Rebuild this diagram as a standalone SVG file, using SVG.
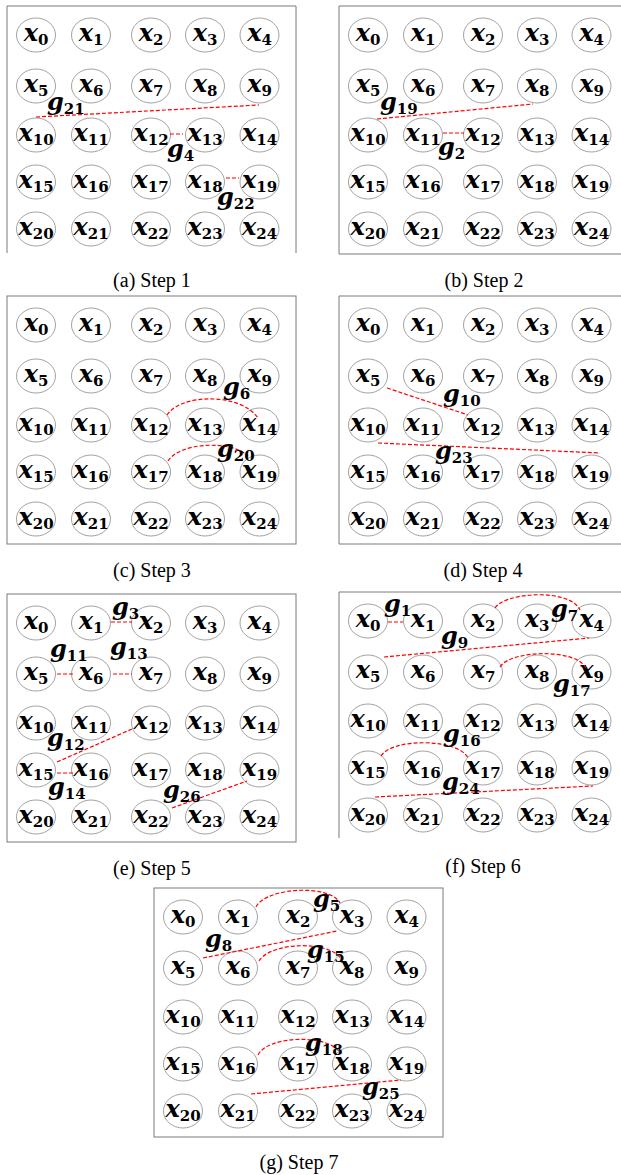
<svg xmlns="http://www.w3.org/2000/svg" width="621" height="1175" viewBox="0 0 621 1175">
<style>
.f{fill:none;stroke:#7a7a7a;stroke-width:1}
.n ellipse{fill:#fff;stroke:#8a8a8a;stroke-width:0.8}
.t{font-family:"DejaVu Serif",serif;font-weight:bold;font-style:italic;font-size:24px;fill:#000;text-anchor:middle}
.g{font-family:"DejaVu Serif",serif;font-weight:bold;font-style:italic;font-size:24px;fill:#000}
.s{font-style:normal;font-size:15px}
.c{fill:none;stroke:#f00;stroke-width:1.2;stroke-dasharray:4 2}
.cap{font-family:"Liberation Serif",serif;font-size:20px;fill:#000;text-anchor:middle}
</style>
<rect width="621" height="1175" fill="#fff"/>
<g id="frames">
<path class="f" d="M7,253 V6 H296 V253"/>
<path class="f" d="M625,6 H339 V254 H625"/>
<rect class="f" x="7" y="296" width="289" height="248"/>
<path class="f" d="M625,296 H339 V544 H625"/>
<rect class="f" x="7" y="594" width="289" height="248"/>
<path class="f" d="M625,592 H339 V838"/>
<rect class="f" x="154" y="888" width="289" height="249"/>
</g>
<g id="captions">
<text class="cap" x="152" y="287">(a) Step 1</text>
<text class="cap" x="484" y="287">(b) Step 2</text>
<text class="cap" x="152" y="577">(c) Step 3</text>
<text class="cap" x="483" y="577">(d) Step 4</text>
<text class="cap" x="152" y="875">(e) Step 5</text>
<text class="cap" x="483" y="873">(f) Step 6</text>
<text class="cap" x="299" y="1169">(g) Step 7</text>
</g>
<g id="panel-a">
<g id="a0" class="n"><ellipse cx="36" cy="35" rx="19.5" ry="17"/><text class="t" x="36" y="41">x<tspan class="s" dy="4">0</tspan></text></g>
<g id="a1" class="n"><ellipse cx="91" cy="35" rx="19.5" ry="17"/><text class="t" x="91" y="41">x<tspan class="s" dy="4">1</tspan></text></g>
<g id="a2" class="n"><ellipse cx="151" cy="35" rx="19.5" ry="17"/><text class="t" x="151" y="41">x<tspan class="s" dy="4">2</tspan></text></g>
<g id="a3" class="n"><ellipse cx="205" cy="35" rx="19.5" ry="17"/><text class="t" x="205" y="41">x<tspan class="s" dy="4">3</tspan></text></g>
<g id="a4" class="n"><ellipse cx="259.5" cy="35" rx="19.5" ry="17"/><text class="t" x="259.5" y="41">x<tspan class="s" dy="4">4</tspan></text></g>
<g id="a5" class="n"><ellipse cx="36" cy="86" rx="19.5" ry="17"/><text class="t" x="36" y="92">x<tspan class="s" dy="4">5</tspan></text></g>
<g id="a6" class="n"><ellipse cx="91" cy="86" rx="19.5" ry="17"/><text class="t" x="91" y="92">x<tspan class="s" dy="4">6</tspan></text></g>
<g id="a7" class="n"><ellipse cx="151" cy="86" rx="19.5" ry="17"/><text class="t" x="151" y="92">x<tspan class="s" dy="4">7</tspan></text></g>
<g id="a8" class="n"><ellipse cx="205" cy="86" rx="19.5" ry="17"/><text class="t" x="205" y="92">x<tspan class="s" dy="4">8</tspan></text></g>
<g id="a9" class="n"><ellipse cx="259.5" cy="86" rx="19.5" ry="17"/><text class="t" x="259.5" y="92">x<tspan class="s" dy="4">9</tspan></text></g>
<g id="a10" class="n"><ellipse cx="36" cy="135" rx="19.5" ry="17"/><text class="t" x="36" y="141">x<tspan class="s" dy="4">10</tspan></text></g>
<g id="a11" class="n"><ellipse cx="91" cy="135" rx="19.5" ry="17"/><text class="t" x="91" y="141">x<tspan class="s" dy="4">11</tspan></text></g>
<g id="a12" class="n"><ellipse cx="151" cy="135" rx="19.5" ry="17"/><text class="t" x="151" y="141">x<tspan class="s" dy="4">12</tspan></text></g>
<g id="a13" class="n"><ellipse cx="205" cy="135" rx="19.5" ry="17"/><text class="t" x="205" y="141">x<tspan class="s" dy="4">13</tspan></text></g>
<g id="a14" class="n"><ellipse cx="259.5" cy="135" rx="19.5" ry="17"/><text class="t" x="259.5" y="141">x<tspan class="s" dy="4">14</tspan></text></g>
<g id="a15" class="n"><ellipse cx="36" cy="182" rx="19.5" ry="17"/><text class="t" x="36" y="188">x<tspan class="s" dy="4">15</tspan></text></g>
<g id="a16" class="n"><ellipse cx="91" cy="182" rx="19.5" ry="17"/><text class="t" x="91" y="188">x<tspan class="s" dy="4">16</tspan></text></g>
<g id="a17" class="n"><ellipse cx="151" cy="182" rx="19.5" ry="17"/><text class="t" x="151" y="188">x<tspan class="s" dy="4">17</tspan></text></g>
<g id="a18" class="n"><ellipse cx="205" cy="182" rx="19.5" ry="17"/><text class="t" x="205" y="188">x<tspan class="s" dy="4">18</tspan></text></g>
<g id="a19" class="n"><ellipse cx="259.5" cy="182" rx="19.5" ry="17"/><text class="t" x="259.5" y="188">x<tspan class="s" dy="4">19</tspan></text></g>
<g id="a20" class="n"><ellipse cx="36" cy="229" rx="19.5" ry="17"/><text class="t" x="36" y="235">x<tspan class="s" dy="4">20</tspan></text></g>
<g id="a21" class="n"><ellipse cx="91" cy="229" rx="19.5" ry="17"/><text class="t" x="91" y="235">x<tspan class="s" dy="4">21</tspan></text></g>
<g id="a22" class="n"><ellipse cx="151" cy="229" rx="19.5" ry="17"/><text class="t" x="151" y="235">x<tspan class="s" dy="4">22</tspan></text></g>
<g id="a23" class="n"><ellipse cx="205" cy="229" rx="19.5" ry="17"/><text class="t" x="205" y="235">x<tspan class="s" dy="4">23</tspan></text></g>
<g id="a24" class="n"><ellipse cx="259.5" cy="229" rx="19.5" ry="17"/><text class="t" x="259.5" y="235">x<tspan class="s" dy="4">24</tspan></text></g>
</g>
<g id="panel-b">
<g id="b0" class="n"><ellipse cx="368" cy="35" rx="19.5" ry="17"/><text class="t" x="368" y="41">x<tspan class="s" dy="4">0</tspan></text></g>
<g id="b1" class="n"><ellipse cx="423" cy="35" rx="19.5" ry="17"/><text class="t" x="423" y="41">x<tspan class="s" dy="4">1</tspan></text></g>
<g id="b2" class="n"><ellipse cx="483" cy="35" rx="19.5" ry="17"/><text class="t" x="483" y="41">x<tspan class="s" dy="4">2</tspan></text></g>
<g id="b3" class="n"><ellipse cx="537" cy="35" rx="19.5" ry="17"/><text class="t" x="537" y="41">x<tspan class="s" dy="4">3</tspan></text></g>
<g id="b4" class="n"><ellipse cx="591.5" cy="35" rx="19.5" ry="17"/><text class="t" x="591.5" y="41">x<tspan class="s" dy="4">4</tspan></text></g>
<g id="b5" class="n"><ellipse cx="368" cy="86" rx="19.5" ry="17"/><text class="t" x="368" y="92">x<tspan class="s" dy="4">5</tspan></text></g>
<g id="b6" class="n"><ellipse cx="423" cy="86" rx="19.5" ry="17"/><text class="t" x="423" y="92">x<tspan class="s" dy="4">6</tspan></text></g>
<g id="b7" class="n"><ellipse cx="483" cy="86" rx="19.5" ry="17"/><text class="t" x="483" y="92">x<tspan class="s" dy="4">7</tspan></text></g>
<g id="b8" class="n"><ellipse cx="537" cy="86" rx="19.5" ry="17"/><text class="t" x="537" y="92">x<tspan class="s" dy="4">8</tspan></text></g>
<g id="b9" class="n"><ellipse cx="591.5" cy="86" rx="19.5" ry="17"/><text class="t" x="591.5" y="92">x<tspan class="s" dy="4">9</tspan></text></g>
<g id="b10" class="n"><ellipse cx="368" cy="135" rx="19.5" ry="17"/><text class="t" x="368" y="141">x<tspan class="s" dy="4">10</tspan></text></g>
<g id="b11" class="n"><ellipse cx="423" cy="135" rx="19.5" ry="17"/><text class="t" x="423" y="141">x<tspan class="s" dy="4">11</tspan></text></g>
<g id="b12" class="n"><ellipse cx="483" cy="135" rx="19.5" ry="17"/><text class="t" x="483" y="141">x<tspan class="s" dy="4">12</tspan></text></g>
<g id="b13" class="n"><ellipse cx="537" cy="135" rx="19.5" ry="17"/><text class="t" x="537" y="141">x<tspan class="s" dy="4">13</tspan></text></g>
<g id="b14" class="n"><ellipse cx="591.5" cy="135" rx="19.5" ry="17"/><text class="t" x="591.5" y="141">x<tspan class="s" dy="4">14</tspan></text></g>
<g id="b15" class="n"><ellipse cx="368" cy="182" rx="19.5" ry="17"/><text class="t" x="368" y="188">x<tspan class="s" dy="4">15</tspan></text></g>
<g id="b16" class="n"><ellipse cx="423" cy="182" rx="19.5" ry="17"/><text class="t" x="423" y="188">x<tspan class="s" dy="4">16</tspan></text></g>
<g id="b17" class="n"><ellipse cx="483" cy="182" rx="19.5" ry="17"/><text class="t" x="483" y="188">x<tspan class="s" dy="4">17</tspan></text></g>
<g id="b18" class="n"><ellipse cx="537" cy="182" rx="19.5" ry="17"/><text class="t" x="537" y="188">x<tspan class="s" dy="4">18</tspan></text></g>
<g id="b19" class="n"><ellipse cx="591.5" cy="182" rx="19.5" ry="17"/><text class="t" x="591.5" y="188">x<tspan class="s" dy="4">19</tspan></text></g>
<g id="b20" class="n"><ellipse cx="368" cy="229" rx="19.5" ry="17"/><text class="t" x="368" y="235">x<tspan class="s" dy="4">20</tspan></text></g>
<g id="b21" class="n"><ellipse cx="423" cy="229" rx="19.5" ry="17"/><text class="t" x="423" y="235">x<tspan class="s" dy="4">21</tspan></text></g>
<g id="b22" class="n"><ellipse cx="483" cy="229" rx="19.5" ry="17"/><text class="t" x="483" y="235">x<tspan class="s" dy="4">22</tspan></text></g>
<g id="b23" class="n"><ellipse cx="537" cy="229" rx="19.5" ry="17"/><text class="t" x="537" y="235">x<tspan class="s" dy="4">23</tspan></text></g>
<g id="b24" class="n"><ellipse cx="591.5" cy="229" rx="19.5" ry="17"/><text class="t" x="591.5" y="235">x<tspan class="s" dy="4">24</tspan></text></g>
</g>
<g id="panel-c">
<g id="c0" class="n"><ellipse cx="36" cy="325" rx="19.5" ry="17"/><text class="t" x="36" y="331">x<tspan class="s" dy="4">0</tspan></text></g>
<g id="c1" class="n"><ellipse cx="91" cy="325" rx="19.5" ry="17"/><text class="t" x="91" y="331">x<tspan class="s" dy="4">1</tspan></text></g>
<g id="c2" class="n"><ellipse cx="151" cy="325" rx="19.5" ry="17"/><text class="t" x="151" y="331">x<tspan class="s" dy="4">2</tspan></text></g>
<g id="c3" class="n"><ellipse cx="205" cy="325" rx="19.5" ry="17"/><text class="t" x="205" y="331">x<tspan class="s" dy="4">3</tspan></text></g>
<g id="c4" class="n"><ellipse cx="259.5" cy="325" rx="19.5" ry="17"/><text class="t" x="259.5" y="331">x<tspan class="s" dy="4">4</tspan></text></g>
<g id="c5" class="n"><ellipse cx="36" cy="376" rx="19.5" ry="17"/><text class="t" x="36" y="382">x<tspan class="s" dy="4">5</tspan></text></g>
<g id="c6" class="n"><ellipse cx="91" cy="376" rx="19.5" ry="17"/><text class="t" x="91" y="382">x<tspan class="s" dy="4">6</tspan></text></g>
<g id="c7" class="n"><ellipse cx="151" cy="376" rx="19.5" ry="17"/><text class="t" x="151" y="382">x<tspan class="s" dy="4">7</tspan></text></g>
<g id="c8" class="n"><ellipse cx="205" cy="376" rx="19.5" ry="17"/><text class="t" x="205" y="382">x<tspan class="s" dy="4">8</tspan></text></g>
<g id="c9" class="n"><ellipse cx="259.5" cy="376" rx="19.5" ry="17"/><text class="t" x="259.5" y="382">x<tspan class="s" dy="4">9</tspan></text></g>
<g id="c10" class="n"><ellipse cx="36" cy="425" rx="19.5" ry="17"/><text class="t" x="36" y="431">x<tspan class="s" dy="4">10</tspan></text></g>
<g id="c11" class="n"><ellipse cx="91" cy="425" rx="19.5" ry="17"/><text class="t" x="91" y="431">x<tspan class="s" dy="4">11</tspan></text></g>
<g id="c12" class="n"><ellipse cx="151" cy="425" rx="19.5" ry="17"/><text class="t" x="151" y="431">x<tspan class="s" dy="4">12</tspan></text></g>
<g id="c13" class="n"><ellipse cx="205" cy="425" rx="19.5" ry="17"/><text class="t" x="205" y="431">x<tspan class="s" dy="4">13</tspan></text></g>
<g id="c14" class="n"><ellipse cx="259.5" cy="425" rx="19.5" ry="17"/><text class="t" x="259.5" y="431">x<tspan class="s" dy="4">14</tspan></text></g>
<g id="c15" class="n"><ellipse cx="36" cy="472" rx="19.5" ry="17"/><text class="t" x="36" y="478">x<tspan class="s" dy="4">15</tspan></text></g>
<g id="c16" class="n"><ellipse cx="91" cy="472" rx="19.5" ry="17"/><text class="t" x="91" y="478">x<tspan class="s" dy="4">16</tspan></text></g>
<g id="c17" class="n"><ellipse cx="151" cy="472" rx="19.5" ry="17"/><text class="t" x="151" y="478">x<tspan class="s" dy="4">17</tspan></text></g>
<g id="c18" class="n"><ellipse cx="205" cy="472" rx="19.5" ry="17"/><text class="t" x="205" y="478">x<tspan class="s" dy="4">18</tspan></text></g>
<g id="c19" class="n"><ellipse cx="259.5" cy="472" rx="19.5" ry="17"/><text class="t" x="259.5" y="478">x<tspan class="s" dy="4">19</tspan></text></g>
<g id="c20" class="n"><ellipse cx="36" cy="519" rx="19.5" ry="17"/><text class="t" x="36" y="525">x<tspan class="s" dy="4">20</tspan></text></g>
<g id="c21" class="n"><ellipse cx="91" cy="519" rx="19.5" ry="17"/><text class="t" x="91" y="525">x<tspan class="s" dy="4">21</tspan></text></g>
<g id="c22" class="n"><ellipse cx="151" cy="519" rx="19.5" ry="17"/><text class="t" x="151" y="525">x<tspan class="s" dy="4">22</tspan></text></g>
<g id="c23" class="n"><ellipse cx="205" cy="519" rx="19.5" ry="17"/><text class="t" x="205" y="525">x<tspan class="s" dy="4">23</tspan></text></g>
<g id="c24" class="n"><ellipse cx="259.5" cy="519" rx="19.5" ry="17"/><text class="t" x="259.5" y="525">x<tspan class="s" dy="4">24</tspan></text></g>
</g>
<g id="panel-d">
<g id="d0" class="n"><ellipse cx="368" cy="325" rx="19.5" ry="17"/><text class="t" x="368" y="331">x<tspan class="s" dy="4">0</tspan></text></g>
<g id="d1" class="n"><ellipse cx="423" cy="325" rx="19.5" ry="17"/><text class="t" x="423" y="331">x<tspan class="s" dy="4">1</tspan></text></g>
<g id="d2" class="n"><ellipse cx="483" cy="325" rx="19.5" ry="17"/><text class="t" x="483" y="331">x<tspan class="s" dy="4">2</tspan></text></g>
<g id="d3" class="n"><ellipse cx="537" cy="325" rx="19.5" ry="17"/><text class="t" x="537" y="331">x<tspan class="s" dy="4">3</tspan></text></g>
<g id="d4" class="n"><ellipse cx="591.5" cy="325" rx="19.5" ry="17"/><text class="t" x="591.5" y="331">x<tspan class="s" dy="4">4</tspan></text></g>
<g id="d5" class="n"><ellipse cx="368" cy="376" rx="19.5" ry="17"/><text class="t" x="368" y="382">x<tspan class="s" dy="4">5</tspan></text></g>
<g id="d6" class="n"><ellipse cx="423" cy="376" rx="19.5" ry="17"/><text class="t" x="423" y="382">x<tspan class="s" dy="4">6</tspan></text></g>
<g id="d7" class="n"><ellipse cx="483" cy="376" rx="19.5" ry="17"/><text class="t" x="483" y="382">x<tspan class="s" dy="4">7</tspan></text></g>
<g id="d8" class="n"><ellipse cx="537" cy="376" rx="19.5" ry="17"/><text class="t" x="537" y="382">x<tspan class="s" dy="4">8</tspan></text></g>
<g id="d9" class="n"><ellipse cx="591.5" cy="376" rx="19.5" ry="17"/><text class="t" x="591.5" y="382">x<tspan class="s" dy="4">9</tspan></text></g>
<g id="d10" class="n"><ellipse cx="368" cy="425" rx="19.5" ry="17"/><text class="t" x="368" y="431">x<tspan class="s" dy="4">10</tspan></text></g>
<g id="d11" class="n"><ellipse cx="423" cy="425" rx="19.5" ry="17"/><text class="t" x="423" y="431">x<tspan class="s" dy="4">11</tspan></text></g>
<g id="d12" class="n"><ellipse cx="483" cy="425" rx="19.5" ry="17"/><text class="t" x="483" y="431">x<tspan class="s" dy="4">12</tspan></text></g>
<g id="d13" class="n"><ellipse cx="537" cy="425" rx="19.5" ry="17"/><text class="t" x="537" y="431">x<tspan class="s" dy="4">13</tspan></text></g>
<g id="d14" class="n"><ellipse cx="591.5" cy="425" rx="19.5" ry="17"/><text class="t" x="591.5" y="431">x<tspan class="s" dy="4">14</tspan></text></g>
<g id="d15" class="n"><ellipse cx="368" cy="472" rx="19.5" ry="17"/><text class="t" x="368" y="478">x<tspan class="s" dy="4">15</tspan></text></g>
<g id="d16" class="n"><ellipse cx="423" cy="472" rx="19.5" ry="17"/><text class="t" x="423" y="478">x<tspan class="s" dy="4">16</tspan></text></g>
<g id="d17" class="n"><ellipse cx="483" cy="472" rx="19.5" ry="17"/><text class="t" x="483" y="478">x<tspan class="s" dy="4">17</tspan></text></g>
<g id="d18" class="n"><ellipse cx="537" cy="472" rx="19.5" ry="17"/><text class="t" x="537" y="478">x<tspan class="s" dy="4">18</tspan></text></g>
<g id="d19" class="n"><ellipse cx="591.5" cy="472" rx="19.5" ry="17"/><text class="t" x="591.5" y="478">x<tspan class="s" dy="4">19</tspan></text></g>
<g id="d20" class="n"><ellipse cx="368" cy="519" rx="19.5" ry="17"/><text class="t" x="368" y="525">x<tspan class="s" dy="4">20</tspan></text></g>
<g id="d21" class="n"><ellipse cx="423" cy="519" rx="19.5" ry="17"/><text class="t" x="423" y="525">x<tspan class="s" dy="4">21</tspan></text></g>
<g id="d22" class="n"><ellipse cx="483" cy="519" rx="19.5" ry="17"/><text class="t" x="483" y="525">x<tspan class="s" dy="4">22</tspan></text></g>
<g id="d23" class="n"><ellipse cx="537" cy="519" rx="19.5" ry="17"/><text class="t" x="537" y="525">x<tspan class="s" dy="4">23</tspan></text></g>
<g id="d24" class="n"><ellipse cx="591.5" cy="519" rx="19.5" ry="17"/><text class="t" x="591.5" y="525">x<tspan class="s" dy="4">24</tspan></text></g>
</g>
<g id="panel-e">
<g id="e0" class="n"><ellipse cx="36" cy="623" rx="19.5" ry="17"/><text class="t" x="36" y="629">x<tspan class="s" dy="4">0</tspan></text></g>
<g id="e1" class="n"><ellipse cx="91" cy="623" rx="19.5" ry="17"/><text class="t" x="91" y="629">x<tspan class="s" dy="4">1</tspan></text></g>
<g id="e2" class="n"><ellipse cx="151" cy="623" rx="19.5" ry="17"/><text class="t" x="151" y="629">x<tspan class="s" dy="4">2</tspan></text></g>
<g id="e3" class="n"><ellipse cx="205" cy="623" rx="19.5" ry="17"/><text class="t" x="205" y="629">x<tspan class="s" dy="4">3</tspan></text></g>
<g id="e4" class="n"><ellipse cx="259.5" cy="623" rx="19.5" ry="17"/><text class="t" x="259.5" y="629">x<tspan class="s" dy="4">4</tspan></text></g>
<g id="e5" class="n"><ellipse cx="36" cy="674" rx="19.5" ry="17"/><text class="t" x="36" y="680">x<tspan class="s" dy="4">5</tspan></text></g>
<g id="e6" class="n"><ellipse cx="91" cy="674" rx="19.5" ry="17"/><text class="t" x="91" y="680">x<tspan class="s" dy="4">6</tspan></text></g>
<g id="e7" class="n"><ellipse cx="151" cy="674" rx="19.5" ry="17"/><text class="t" x="151" y="680">x<tspan class="s" dy="4">7</tspan></text></g>
<g id="e8" class="n"><ellipse cx="205" cy="674" rx="19.5" ry="17"/><text class="t" x="205" y="680">x<tspan class="s" dy="4">8</tspan></text></g>
<g id="e9" class="n"><ellipse cx="259.5" cy="674" rx="19.5" ry="17"/><text class="t" x="259.5" y="680">x<tspan class="s" dy="4">9</tspan></text></g>
<g id="e10" class="n"><ellipse cx="36" cy="723" rx="19.5" ry="17"/><text class="t" x="36" y="729">x<tspan class="s" dy="4">10</tspan></text></g>
<g id="e11" class="n"><ellipse cx="91" cy="723" rx="19.5" ry="17"/><text class="t" x="91" y="729">x<tspan class="s" dy="4">11</tspan></text></g>
<g id="e12" class="n"><ellipse cx="151" cy="723" rx="19.5" ry="17"/><text class="t" x="151" y="729">x<tspan class="s" dy="4">12</tspan></text></g>
<g id="e13" class="n"><ellipse cx="205" cy="723" rx="19.5" ry="17"/><text class="t" x="205" y="729">x<tspan class="s" dy="4">13</tspan></text></g>
<g id="e14" class="n"><ellipse cx="259.5" cy="723" rx="19.5" ry="17"/><text class="t" x="259.5" y="729">x<tspan class="s" dy="4">14</tspan></text></g>
<g id="e15" class="n"><ellipse cx="36" cy="770" rx="19.5" ry="17"/><text class="t" x="36" y="776">x<tspan class="s" dy="4">15</tspan></text></g>
<g id="e16" class="n"><ellipse cx="91" cy="770" rx="19.5" ry="17"/><text class="t" x="91" y="776">x<tspan class="s" dy="4">16</tspan></text></g>
<g id="e17" class="n"><ellipse cx="151" cy="770" rx="19.5" ry="17"/><text class="t" x="151" y="776">x<tspan class="s" dy="4">17</tspan></text></g>
<g id="e18" class="n"><ellipse cx="205" cy="770" rx="19.5" ry="17"/><text class="t" x="205" y="776">x<tspan class="s" dy="4">18</tspan></text></g>
<g id="e19" class="n"><ellipse cx="259.5" cy="770" rx="19.5" ry="17"/><text class="t" x="259.5" y="776">x<tspan class="s" dy="4">19</tspan></text></g>
<g id="e20" class="n"><ellipse cx="36" cy="817" rx="19.5" ry="17"/><text class="t" x="36" y="823">x<tspan class="s" dy="4">20</tspan></text></g>
<g id="e21" class="n"><ellipse cx="91" cy="817" rx="19.5" ry="17"/><text class="t" x="91" y="823">x<tspan class="s" dy="4">21</tspan></text></g>
<g id="e22" class="n"><ellipse cx="151" cy="817" rx="19.5" ry="17"/><text class="t" x="151" y="823">x<tspan class="s" dy="4">22</tspan></text></g>
<g id="e23" class="n"><ellipse cx="205" cy="817" rx="19.5" ry="17"/><text class="t" x="205" y="823">x<tspan class="s" dy="4">23</tspan></text></g>
<g id="e24" class="n"><ellipse cx="259.5" cy="817" rx="19.5" ry="17"/><text class="t" x="259.5" y="823">x<tspan class="s" dy="4">24</tspan></text></g>
</g>
<g id="panel-f">
<g id="f0" class="n"><ellipse cx="368" cy="621" rx="19.5" ry="17"/><text class="t" x="368" y="627">x<tspan class="s" dy="4">0</tspan></text></g>
<g id="f1" class="n"><ellipse cx="423" cy="621" rx="19.5" ry="17"/><text class="t" x="423" y="627">x<tspan class="s" dy="4">1</tspan></text></g>
<g id="f2" class="n"><ellipse cx="483" cy="621" rx="19.5" ry="17"/><text class="t" x="483" y="627">x<tspan class="s" dy="4">2</tspan></text></g>
<g id="f3" class="n"><ellipse cx="537" cy="621" rx="19.5" ry="17"/><text class="t" x="537" y="627">x<tspan class="s" dy="4">3</tspan></text></g>
<g id="f4" class="n"><ellipse cx="591.5" cy="621" rx="19.5" ry="17"/><text class="t" x="591.5" y="627">x<tspan class="s" dy="4">4</tspan></text></g>
<g id="f5" class="n"><ellipse cx="368" cy="672" rx="19.5" ry="17"/><text class="t" x="368" y="678">x<tspan class="s" dy="4">5</tspan></text></g>
<g id="f6" class="n"><ellipse cx="423" cy="672" rx="19.5" ry="17"/><text class="t" x="423" y="678">x<tspan class="s" dy="4">6</tspan></text></g>
<g id="f7" class="n"><ellipse cx="483" cy="672" rx="19.5" ry="17"/><text class="t" x="483" y="678">x<tspan class="s" dy="4">7</tspan></text></g>
<g id="f8" class="n"><ellipse cx="537" cy="672" rx="19.5" ry="17"/><text class="t" x="537" y="678">x<tspan class="s" dy="4">8</tspan></text></g>
<g id="f9" class="n"><ellipse cx="591.5" cy="672" rx="19.5" ry="17"/><text class="t" x="591.5" y="678">x<tspan class="s" dy="4">9</tspan></text></g>
<g id="f10" class="n"><ellipse cx="368" cy="721" rx="19.5" ry="17"/><text class="t" x="368" y="727">x<tspan class="s" dy="4">10</tspan></text></g>
<g id="f11" class="n"><ellipse cx="423" cy="721" rx="19.5" ry="17"/><text class="t" x="423" y="727">x<tspan class="s" dy="4">11</tspan></text></g>
<g id="f12" class="n"><ellipse cx="483" cy="721" rx="19.5" ry="17"/><text class="t" x="483" y="727">x<tspan class="s" dy="4">12</tspan></text></g>
<g id="f13" class="n"><ellipse cx="537" cy="721" rx="19.5" ry="17"/><text class="t" x="537" y="727">x<tspan class="s" dy="4">13</tspan></text></g>
<g id="f14" class="n"><ellipse cx="591.5" cy="721" rx="19.5" ry="17"/><text class="t" x="591.5" y="727">x<tspan class="s" dy="4">14</tspan></text></g>
<g id="f15" class="n"><ellipse cx="368" cy="768" rx="19.5" ry="17"/><text class="t" x="368" y="774">x<tspan class="s" dy="4">15</tspan></text></g>
<g id="f16" class="n"><ellipse cx="423" cy="768" rx="19.5" ry="17"/><text class="t" x="423" y="774">x<tspan class="s" dy="4">16</tspan></text></g>
<g id="f17" class="n"><ellipse cx="483" cy="768" rx="19.5" ry="17"/><text class="t" x="483" y="774">x<tspan class="s" dy="4">17</tspan></text></g>
<g id="f18" class="n"><ellipse cx="537" cy="768" rx="19.5" ry="17"/><text class="t" x="537" y="774">x<tspan class="s" dy="4">18</tspan></text></g>
<g id="f19" class="n"><ellipse cx="591.5" cy="768" rx="19.5" ry="17"/><text class="t" x="591.5" y="774">x<tspan class="s" dy="4">19</tspan></text></g>
<g id="f20" class="n"><ellipse cx="368" cy="815" rx="19.5" ry="17"/><text class="t" x="368" y="821">x<tspan class="s" dy="4">20</tspan></text></g>
<g id="f21" class="n"><ellipse cx="423" cy="815" rx="19.5" ry="17"/><text class="t" x="423" y="821">x<tspan class="s" dy="4">21</tspan></text></g>
<g id="f22" class="n"><ellipse cx="483" cy="815" rx="19.5" ry="17"/><text class="t" x="483" y="821">x<tspan class="s" dy="4">22</tspan></text></g>
<g id="f23" class="n"><ellipse cx="537" cy="815" rx="19.5" ry="17"/><text class="t" x="537" y="821">x<tspan class="s" dy="4">23</tspan></text></g>
<g id="f24" class="n"><ellipse cx="591.5" cy="815" rx="19.5" ry="17"/><text class="t" x="591.5" y="821">x<tspan class="s" dy="4">24</tspan></text></g>
</g>
<g id="panel-g">
<g id="g0" class="n"><ellipse cx="183" cy="917" rx="19.5" ry="17"/><text class="t" x="183" y="923">x<tspan class="s" dy="4">0</tspan></text></g>
<g id="g1" class="n"><ellipse cx="238" cy="917" rx="19.5" ry="17"/><text class="t" x="238" y="923">x<tspan class="s" dy="4">1</tspan></text></g>
<g id="g2" class="n"><ellipse cx="298" cy="917" rx="19.5" ry="17"/><text class="t" x="298" y="923">x<tspan class="s" dy="4">2</tspan></text></g>
<g id="g3" class="n"><ellipse cx="352" cy="917" rx="19.5" ry="17"/><text class="t" x="352" y="923">x<tspan class="s" dy="4">3</tspan></text></g>
<g id="g4" class="n"><ellipse cx="406.5" cy="917" rx="19.5" ry="17"/><text class="t" x="406.5" y="923">x<tspan class="s" dy="4">4</tspan></text></g>
<g id="g5" class="n"><ellipse cx="183" cy="968" rx="19.5" ry="17"/><text class="t" x="183" y="974">x<tspan class="s" dy="4">5</tspan></text></g>
<g id="g6" class="n"><ellipse cx="238" cy="968" rx="19.5" ry="17"/><text class="t" x="238" y="974">x<tspan class="s" dy="4">6</tspan></text></g>
<g id="g7" class="n"><ellipse cx="298" cy="968" rx="19.5" ry="17"/><text class="t" x="298" y="974">x<tspan class="s" dy="4">7</tspan></text></g>
<g id="g8" class="n"><ellipse cx="352" cy="968" rx="19.5" ry="17"/><text class="t" x="352" y="974">x<tspan class="s" dy="4">8</tspan></text></g>
<g id="g9" class="n"><ellipse cx="406.5" cy="968" rx="19.5" ry="17"/><text class="t" x="406.5" y="974">x<tspan class="s" dy="4">9</tspan></text></g>
<g id="g10" class="n"><ellipse cx="183" cy="1017" rx="19.5" ry="17"/><text class="t" x="183" y="1023">x<tspan class="s" dy="4">10</tspan></text></g>
<g id="g11" class="n"><ellipse cx="238" cy="1017" rx="19.5" ry="17"/><text class="t" x="238" y="1023">x<tspan class="s" dy="4">11</tspan></text></g>
<g id="g12" class="n"><ellipse cx="298" cy="1017" rx="19.5" ry="17"/><text class="t" x="298" y="1023">x<tspan class="s" dy="4">12</tspan></text></g>
<g id="g13" class="n"><ellipse cx="352" cy="1017" rx="19.5" ry="17"/><text class="t" x="352" y="1023">x<tspan class="s" dy="4">13</tspan></text></g>
<g id="g14" class="n"><ellipse cx="406.5" cy="1017" rx="19.5" ry="17"/><text class="t" x="406.5" y="1023">x<tspan class="s" dy="4">14</tspan></text></g>
<g id="g15" class="n"><ellipse cx="183" cy="1064" rx="19.5" ry="17"/><text class="t" x="183" y="1070">x<tspan class="s" dy="4">15</tspan></text></g>
<g id="g16" class="n"><ellipse cx="238" cy="1064" rx="19.5" ry="17"/><text class="t" x="238" y="1070">x<tspan class="s" dy="4">16</tspan></text></g>
<g id="g17" class="n"><ellipse cx="298" cy="1064" rx="19.5" ry="17"/><text class="t" x="298" y="1070">x<tspan class="s" dy="4">17</tspan></text></g>
<g id="g18" class="n"><ellipse cx="352" cy="1064" rx="19.5" ry="17"/><text class="t" x="352" y="1070">x<tspan class="s" dy="4">18</tspan></text></g>
<g id="g19" class="n"><ellipse cx="406.5" cy="1064" rx="19.5" ry="17"/><text class="t" x="406.5" y="1070">x<tspan class="s" dy="4">19</tspan></text></g>
<g id="g20" class="n"><ellipse cx="183" cy="1111" rx="19.5" ry="17"/><text class="t" x="183" y="1117">x<tspan class="s" dy="4">20</tspan></text></g>
<g id="g21" class="n"><ellipse cx="238" cy="1111" rx="19.5" ry="17"/><text class="t" x="238" y="1117">x<tspan class="s" dy="4">21</tspan></text></g>
<g id="g22" class="n"><ellipse cx="298" cy="1111" rx="19.5" ry="17"/><text class="t" x="298" y="1117">x<tspan class="s" dy="4">22</tspan></text></g>
<g id="g23" class="n"><ellipse cx="352" cy="1111" rx="19.5" ry="17"/><text class="t" x="352" y="1117">x<tspan class="s" dy="4">23</tspan></text></g>
<g id="g24" class="n"><ellipse cx="406.5" cy="1111" rx="19.5" ry="17"/><text class="t" x="406.5" y="1117">x<tspan class="s" dy="4">24</tspan></text></g>
</g>
<g id="connectors">
<path class="c" d="M36,117 L259,105"/><text class="g" x="47" y="110">g<tspan class="s" dy="4">21</tspan></text>
<path class="c" d="M170,134 L183,134"/><text class="g" x="167" y="157">g<tspan class="s" dy="4">4</tspan></text>
<path class="c" d="M226,178 L239,178"/><text class="g" x="217" y="205">g<tspan class="s" dy="4">22</tspan></text>
<path class="c" d="M377,119 L533,104"/><text class="g" x="380" y="110">g<tspan class="s" dy="4">19</tspan></text>
<path class="c" d="M443,133 L464,133"/><text class="g" x="438" y="155">g<tspan class="s" dy="4">2</tspan></text>
<path class="c" d="M167,415 C180,394 240,392 258,418"/><text class="g" x="223" y="395">g<tspan class="s" dy="4">6</tspan></text>
<path class="c" d="M168,461 C180,442 232,440 248,456"/><text class="g" x="217" y="457">g<tspan class="s" dy="4">20</tspan></text>
<path class="c" d="M387,388 L468,415"/><text class="g" x="443" y="402">g<tspan class="s" dy="4">10</tspan></text>
<path class="c" d="M378,443 L600,453"/><text class="g" x="435" y="459">g<tspan class="s" dy="4">23</tspan></text>
<path class="c" d="M111,622 L132,622"/><text class="g" x="112" y="615">g<tspan class="s" dy="4">3</tspan></text>
<path class="c" d="M57,674 L73,674"/><text class="g" x="50" y="657">g<tspan class="s" dy="4">11</tspan></text>
<path class="c" d="M113,674 L132,674"/><text class="g" x="110" y="655">g<tspan class="s" dy="4">13</tspan></text>
<path class="c" d="M57,762 L132,729"/><text class="g" x="47" y="746">g<tspan class="s" dy="4">12</tspan></text>
<path class="c" d="M57,773 L73,773"/><text class="g" x="48" y="795">g<tspan class="s" dy="4">14</tspan></text>
<path class="c" d="M172,808 L247,781"/><text class="g" x="163" y="798">g<tspan class="s" dy="4">26</tspan></text>
<path class="c" d="M388,622 L403,622"/><text class="g" x="384" y="612">g<tspan class="s" dy="4">1</tspan></text>
<path class="c" d="M495,608 C505,592 570,588 580,610"/><text class="g" x="551" y="617">g<tspan class="s" dy="4">7</tspan></text>
<path class="c" d="M384,657 L589,638"/><text class="g" x="441" y="644">g<tspan class="s" dy="4">9</tspan></text>
<path class="c" d="M500,667 C510,650 576,648 586,668"/><text class="g" x="553" y="692">g<tspan class="s" dy="4">17</tspan></text>
<path class="c" d="M381,756 C392,738 458,738 468,758"/><text class="g" x="443" y="742">g<tspan class="s" dy="4">16</tspan></text>
<path class="c" d="M375,797 L593,786"/><text class="g" x="442" y="790">g<tspan class="s" dy="4">24</tspan></text>
<path class="c" d="M256,907 C266,887 330,884 340,903"/><text class="g" x="313" y="907">g<tspan class="s" dy="4">5</tspan></text>
<path class="c" d="M203,958 L337,931"/><text class="g" x="205" y="947">g<tspan class="s" dy="4">8</tspan></text>
<path class="c" d="M259,961 C270,942 330,940 341,959"/><text class="g" x="307" y="958">g<tspan class="s" dy="4">15</tspan></text>
<path class="c" d="M258,1055 C268,1035 330,1034 340,1053"/><text class="g" x="305" y="1051">g<tspan class="s" dy="4">18</tspan></text>
<path class="c" d="M251,1094 L401,1080"/><text class="g" x="362" y="1095">g<tspan class="s" dy="4">25</tspan></text>
</g>
</svg>
